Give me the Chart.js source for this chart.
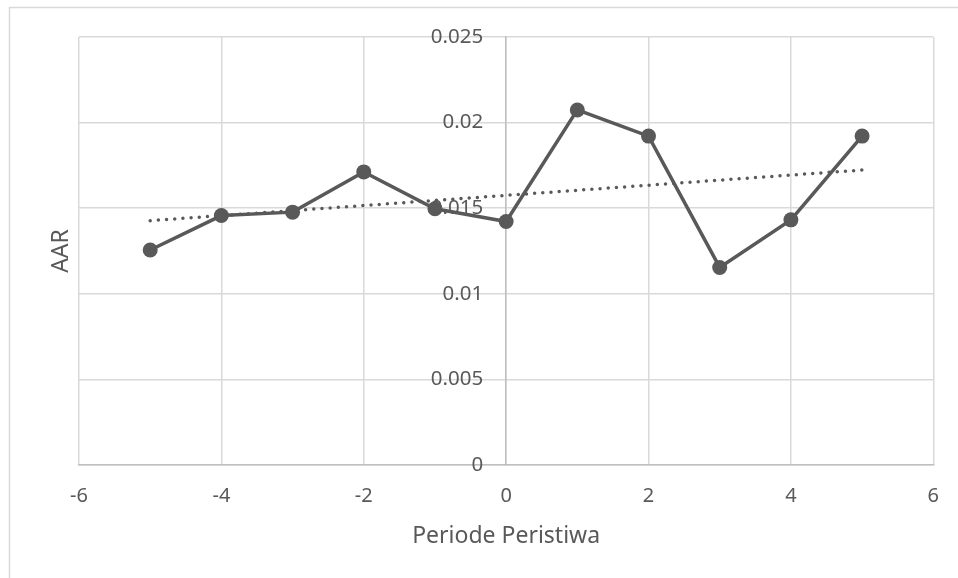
<!DOCTYPE html>
<html>
<head>
<meta charset="utf-8">
<title>AAR</title>
<script src="https://cdn.jsdelivr.net/npm/chart.js@4.4.1/dist/chart.umd.min.js"></script>
<style>
  html, body { margin: 0; padding: 0; background: #fff; }
  #wrap { width: 958px; height: 578px; position: relative; }
</style>
</head>
<body>
<div id="wrap"><canvas id="chart1"></canvas></div>
<script>
// data
const periods = [-5, -4, -3, -2, -1, 0, 1, 2, 3, 4, 5];
const aar = [0.01256, 0.01457, 0.01477, 0.01712, 0.01497, 0.01422, 0.02074, 0.01921, 0.01154, 0.01432, 0.01921];
// dotted trendline ends, as drawn
const trendX = [-5, 5];
const trendY = [0.01427, 0.01723];
const xTicks = [-6, -4, -2, 0, 2, 4, 6];
const yTicks = [0, 0.005, 0.01, 0.015, 0.02, 0.025];

const grey = '#595959';
const gridGrey = '#d9d9d9';
const axisGrey = '#bfbfbf';
const fontFam = "'Noto Sans', 'Open Sans', sans-serif";

const seriesPts = periods.map((p, i) => ({x: p, y: aar[i]}));
const trendPts = trendX.map((p, i) => ({x: p, y: trendY[i]}));

// outer chart frame (only the left and top edges show)
const framePlugin = {
    id: 'frame',
    beforeDraw(chart) {
        const c = chart.ctx;
        c.save();
        c.strokeStyle = gridGrey;
        c.lineWidth = 1.5;
        c.beginPath();
        c.moveTo(9.5, chart.height);
        c.lineTo(9.5, 7.5);
        c.lineTo(chart.width, 7.5);
        c.stroke();
        c.restore();
    }
};

// y axis sits on x = 0, its labels stand a bit left of the line
function shiftYLabels(s) {
    if (s._shifted) return;
    const orig = s.drawLabels;
    s.drawLabels = function (area) {
        this.ctx.save();
        this.ctx.translate(-23, 0);
        orig.call(this, area);
        this.ctx.restore();
    };
    s._shifted = true;
}

const data = {
    datasets: [{
        label: 'Trend',
        data: trendPts,
        showLine: true,
        borderColor: grey,
        borderWidth: 3.5,
        borderDash: [0, 8.2],
        borderCapStyle: 'round',
        pointRadius: 0,
        order: 0
    }, {
        label: 'AAR',
        data: seriesPts,
        showLine: true,
        borderColor: grey,
        backgroundColor: grey,
        borderWidth: 3.5,
        pointRadius: 7.5,
        pointHoverRadius: 7.5,
        pointBorderWidth: 0,
        order: 1
    }]
};

const config = {
    type: 'scatter',
    data: data,
    options: {
        responsive: true,
        maintainAspectRatio: false,
        animation: false,
        layout: { padding: { left: 0, top: 37, right: 24, bottom: 0 } },
        plugins: {
            legend: { display: false },
            tooltip: { enabled: false }
        },
        scales: {
            x: {
                type: 'linear',
                position: 'bottom',
                min: -6,
                max: 6,
                afterBuildTicks: (s) => { s.ticks = xTicks.map(v => ({value: v})); },
                afterFit: (s) => { s.height = 113; },
                ticks: {
                    color: grey,
                    font: { family: fontFam, size: 20 },
                    padding: 19,
                    maxRotation: 0
                },
                grid: { color: gridGrey, lineWidth: 1.5, drawTicks: false },
                border: { color: axisGrey, width: 1.5 },
                title: {
                    display: true,
                    text: 'Periode Peristiwa',
                    color: grey,
                    font: { family: fontFam, size: 23 },
                    padding: { top: 0, bottom: 28 }
                }
            },
            y: {
                type: 'linear',
                position: { x: 0 },
                min: 0,
                max: 0.025,
                afterBuildTicks: (s) => { s.ticks = yTicks.map(v => ({value: v})); },
                afterFit: shiftYLabels,
                ticks: {
                    color: grey,
                    font: { family: fontFam, size: 20.5 },
                    callback: (v) => String(Number(v.toFixed(3)))
                },
                grid: { color: gridGrey, lineWidth: 1.5, drawTicks: false },
                border: { color: axisGrey, width: 1.5 }
            },
            yTitle: {
                type: 'linear',
                position: 'left',
                min: 0,
                max: 1,
                afterFit: (s) => { s.width = 79; },
                ticks: { display: false },
                grid: { display: false, drawTicks: false },
                border: { display: false },
                title: {
                    display: true,
                    text: 'AAR',
                    color: grey,
                    font: { family: fontFam, size: 23 },
                    padding: { top: 48, bottom: 0 }
                }
            }
        }
    },
    plugins: [framePlugin]
};

const chart1 = new Chart(document.getElementById('chart1'), config);
</script>
</body>
</html>
